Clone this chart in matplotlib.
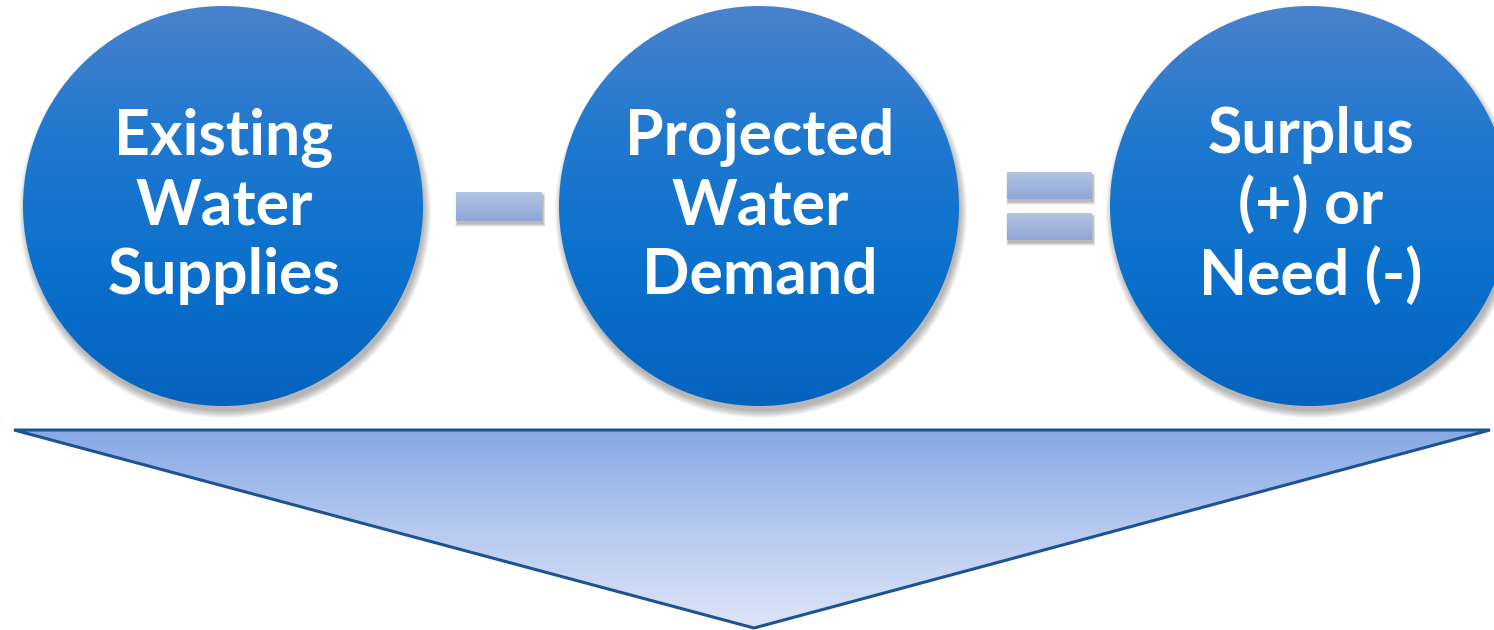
import matplotlib.pyplot as plt
import matplotlib.patches as mpatches
from matplotlib.colors import LinearSegmentedColormap
import numpy as np

labels = ["Existing\nWater\nSupplies", "Projected\nWater\nDemand", "Surplus\n(+) or\nNeed (-)"]
operators = ["minus", "equals"]

W, H = 1494, 630
fig = plt.figure(figsize=(W / 100, H / 100), dpi=100)
ax = fig.add_axes([0, 0, 1, 1])
ax.set_xlim(0, W)
ax.set_ylim(H, 0)
ax.axis("off")

circle_cmap = LinearSegmentedColormap.from_list("circ", ["#4a82cc", "#1f78cf", "#0a70cc", "#0563be"])
bar_cmap = LinearSegmentedColormap.from_list("bar", ["#b3c4e4", "#8ea6d6"])
tri_cmap = LinearSegmentedColormap.from_list("tri", ["#87a8e6", "#b7c9ef", "#dde6f7"])

grad = np.linspace(0, 1, 256).reshape(-1, 1)


def gradient_patch(patch, cmap, x0, x1, y0, y1, z=2):
    ax.add_patch(patch)
    patch.set_facecolor("none")
    patch.set_edgecolor("none")
    im = ax.imshow(grad, cmap=cmap, extent=(x0, x1, y1, y0), aspect="auto", zorder=z, interpolation="bicubic")
    im.set_clip_path(patch)


# circles
cx = [223, 759, 1310]
cy, r = 206, 200
for x, lab in zip(cx, labels):
    # soft shadow
    for k in range(8):
        ax.add_patch(mpatches.Circle((x + 2, cy + 6), r + 6 - k, color="#000000", alpha=0.04, lw=0, zorder=1))
    c = mpatches.Circle((x, cy), r)
    gradient_patch(c, circle_cmap, x - r, x + r, cy - r, cy + r)
    ax.text(x + 1, cy, lab, ha="center", va="center", color="white", fontsize=45,
            fontweight="bold", family="Lato", linespacing=1.24, zorder=5)

# operator bars
bars = {"minus": [(456, 192, 542, 221)], "equals": [(1007, 172, 1092, 199), (1007, 213, 1092, 240)]}
for op in operators:
    for (x0, y0, x1, y1) in bars[op]:
        for k in range(5):
            ax.add_patch(mpatches.Rectangle((x0 + 1 - k * 0.5, y0 + 3 - k * 0.3), x1 - x0 + k, y1 - y0 + k,
                                            color="#000000", alpha=0.06, lw=0, zorder=1))
        b = mpatches.Rectangle((x0, y0), x1 - x0, y1 - y0)
        gradient_patch(b, bar_cmap, x0, x1, y0, y1)

# big down arrow triangle
tri_pts = [(14, 430), (1490, 430), (754, 628)]
tri = mpatches.Polygon(tri_pts, closed=True)
gradient_patch(tri, tri_cmap, 14, 1490, 430, 628)
ax.add_patch(mpatches.Polygon(tri_pts, closed=True, fill=False, edgecolor="#1d5392", lw=2.2, zorder=4,
                              joinstyle="miter"))

fig.savefig("out.png", dpi=100)
